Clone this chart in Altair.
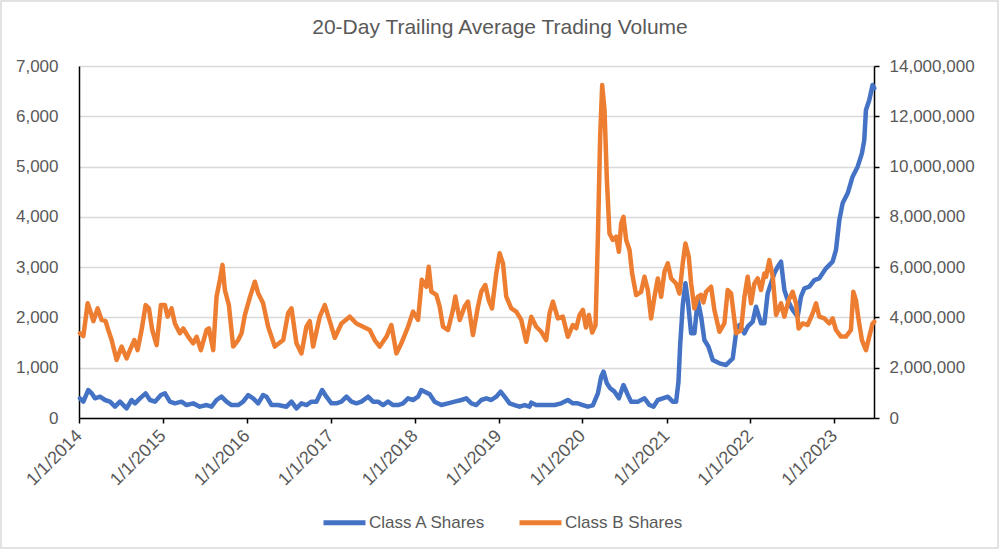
import altair as alt
import pandas as pd

title_text = "20-Day Trailing Average Trading Volume"
series_names = ["Class A Shares", "Class B Shares"]
series_colors = ["#4472C4", "#ED7D31"]
year_ticks = list(range(2014, 2024))

# Class A shares (left axis), decimal year / 20-day average volume
a_years = [2014.012, 2014.052, 2014.111, 2014.151, 2014.190, 2014.250, 2014.310, 2014.369, 2014.429, 2014.488,
           2014.567, 2014.627, 2014.667, 2014.726, 2014.794, 2014.845, 2014.905, 2014.976, 2015.024, 2015.083,
           2015.143, 2015.222, 2015.282, 2015.361, 2015.440, 2015.520, 2015.579, 2015.639, 2015.698, 2015.758,
           2015.817, 2015.897, 2015.956, 2016.016, 2016.075, 2016.135, 2016.194, 2016.234, 2016.294, 2016.373,
           2016.472, 2016.532, 2016.591, 2016.651, 2016.710, 2016.770, 2016.829, 2016.897, 2016.948, 2017.008,
           2017.067, 2017.127, 2017.187, 2017.246, 2017.306, 2017.365, 2017.444, 2017.504, 2017.563, 2017.623,
           2017.683, 2017.742, 2017.802, 2017.861, 2017.921, 2017.980, 2018.040, 2018.079, 2018.119, 2018.179,
           2018.238, 2018.317, 2018.397, 2018.476, 2018.556, 2018.615, 2018.675, 2018.734, 2018.794, 2018.853,
           2018.913, 2018.972, 2019.024, 2019.071, 2019.131, 2019.190, 2019.250, 2019.310, 2019.369, 2019.389,
           2019.448, 2019.508, 2019.587, 2019.667, 2019.746, 2019.825, 2019.885, 2019.944, 2020.004, 2020.063,
           2020.123, 2020.183, 2020.222, 2020.250, 2020.290, 2020.329, 2020.381, 2020.433, 2020.488, 2020.540,
           2020.579, 2020.659, 2020.738, 2020.798, 2020.845, 2020.897, 2020.956, 2021.016, 2021.075, 2021.115,
           2021.143, 2021.163, 2021.194, 2021.226, 2021.254, 2021.294, 2021.333, 2021.373, 2021.413, 2021.452,
           2021.500, 2021.552, 2021.631, 2021.710, 2021.790, 2021.829, 2021.869, 2021.929, 2021.968, 2022.028,
           2022.067, 2022.127, 2022.167, 2022.206, 2022.246, 2022.286, 2022.325, 2022.365, 2022.405, 2022.444,
           2022.504, 2022.563, 2022.603, 2022.643, 2022.702, 2022.762, 2022.821, 2022.901, 2022.980, 2023.020,
           2023.060, 2023.099, 2023.159, 2023.218, 2023.278, 2023.329, 2023.357, 2023.377, 2023.417, 2023.456,
           2023.476]
a_values = [391, 325, 557, 490, 391, 424, 358, 325, 225, 325,
            192, 358, 291, 391, 490, 358, 325, 457, 490, 325,
            291, 325, 258, 291, 225, 258, 225, 358, 424, 325,
            258, 258, 325, 457, 391, 291, 457, 424, 258, 258,
            225, 325, 192, 291, 258, 325, 325, 557, 424, 291,
            291, 325, 424, 325, 291, 325, 424, 325, 325, 258,
            325, 258, 258, 291, 391, 358, 424, 557, 524, 471,
            325, 258, 292, 325, 358, 391, 292, 258, 358, 391,
            358, 424, 524, 424, 292, 258, 225, 258, 225, 305,
            258, 258, 258, 258, 292, 358, 292, 292, 258, 225,
            250, 490, 822, 921, 689, 590, 524, 391, 656, 457,
            325, 325, 391, 258, 225, 358, 391, 424, 325, 325,
            716, 1445, 2241, 2678, 2347, 1684, 1684, 2347, 2015, 1551,
            1419, 1153, 1087, 1054, 1187, 1684, 1849, 1684, 1816, 1915,
            2214, 1882, 1882, 2479, 2678, 2877, 3010, 3109, 2545, 2347,
            2148, 2015, 2413, 2579, 2612, 2744, 2778, 2976, 3109, 3341,
            3937, 4269, 4468, 4799, 4998, 5263, 5528, 6125, 6324, 6622,
            6556]

# Class B shares (right axis), decimal year / 20-day average volume in millions
b_years = [2014.012, 2014.052, 2014.103, 2014.143, 2014.171, 2014.222, 2014.270, 2014.317, 2014.349, 2014.389,
           2014.448, 2014.508, 2014.567, 2014.607, 2014.659, 2014.698, 2014.746, 2014.794, 2014.833, 2014.873,
           2014.925, 2014.976, 2015.024, 2015.056, 2015.103, 2015.143, 2015.202, 2015.242, 2015.302, 2015.361,
           2015.401, 2015.452, 2015.520, 2015.548, 2015.599, 2015.639, 2015.679, 2015.710, 2015.738, 2015.786,
           2015.837, 2015.897, 2015.937, 2015.976, 2016.036, 2016.095, 2016.135, 2016.194, 2016.254, 2016.333,
           2016.433, 2016.492, 2016.532, 2016.591, 2016.651, 2016.710, 2016.750, 2016.790, 2016.869, 2016.929,
           2016.988, 2017.048, 2017.127, 2017.226, 2017.306, 2017.385, 2017.464, 2017.524, 2017.583, 2017.663,
           2017.722, 2017.782, 2017.841, 2017.921, 2017.980, 2018.040, 2018.085, 2018.139, 2018.167, 2018.198,
           2018.258, 2018.298, 2018.337, 2018.397, 2018.456, 2018.484, 2018.536, 2018.595, 2018.635, 2018.694,
           2018.754, 2018.794, 2018.841, 2018.881, 2018.921, 2018.972, 2019.012, 2019.052, 2019.091, 2019.151,
           2019.210, 2019.270, 2019.329, 2019.389, 2019.448, 2019.508, 2019.567, 2019.607, 2019.647, 2019.706,
           2019.766, 2019.825, 2019.885, 2019.925, 2019.964, 2020.004, 2020.040, 2020.075, 2020.115, 2020.155,
           2020.183, 2020.210, 2020.234, 2020.262, 2020.290, 2020.321, 2020.361, 2020.401, 2020.433, 2020.460,
           2020.488, 2020.520, 2020.560, 2020.591, 2020.639, 2020.698, 2020.738, 2020.778, 2020.817, 2020.857,
           2020.897, 2020.937, 2020.976, 2021.016, 2021.056, 2021.115, 2021.155, 2021.194, 2021.226, 2021.266,
           2021.294, 2021.333, 2021.373, 2021.410, 2021.440, 2021.472, 2021.532, 2021.571, 2021.631, 2021.690,
           2021.730, 2021.770, 2021.829, 2021.889, 2021.929, 2021.968, 2022.008, 2022.048, 2022.087, 2022.127,
           2022.167, 2022.187, 2022.226, 2022.266, 2022.306, 2022.365, 2022.405, 2022.456, 2022.504, 2022.544,
           2022.575, 2022.623, 2022.683, 2022.742, 2022.782, 2022.821, 2022.881, 2022.940, 2022.980, 2023.020,
           2023.079, 2023.139, 2023.198, 2023.226, 2023.258, 2023.290, 2023.329, 2023.377, 2023.417, 2023.456,
           2023.476]
b_values_millions = [3.37, 3.26, 4.56, 4.17, 3.85, 4.36, 3.90, 3.85, 3.50, 3.10,
                     2.31, 2.84, 2.37, 2.70, 3.10, 2.70, 3.50, 4.49, 4.36, 3.50,
                     2.90, 4.49, 4.49, 4.03, 4.36, 3.76, 3.37, 3.56, 3.23, 2.97,
                     3.23, 2.70, 3.50, 3.56, 2.70, 4.82, 5.49, 6.09, 5.09, 4.49,
                     2.84, 3.10, 3.37, 4.09, 4.80, 5.42, 4.96, 4.56, 3.63, 2.84,
                     3.10, 4.17, 4.36, 2.97, 2.57, 3.63, 3.85, 2.84, 4.03, 4.49,
                     3.85, 3.19, 3.76, 4.03, 3.76, 3.63, 3.50, 3.10, 2.84, 3.23,
                     3.70, 2.57, 2.97, 3.63, 4.23, 3.90, 5.50, 5.22, 6.02, 5.03,
                     4.90, 4.43, 3.63, 3.50, 4.30, 4.83, 3.90, 4.43, 4.63, 3.30,
                     4.43, 5.03, 5.29, 4.70, 4.36, 5.75, 6.55, 6.15, 4.83, 4.36,
                     4.23, 3.90, 3.03, 4.03, 3.63, 3.43, 3.10, 4.17, 4.63, 3.96,
                     4.03, 3.23, 3.70, 3.57, 4.10, 4.30, 3.60, 4.10, 3.40, 3.70,
                     7.21, 11.19, 13.24, 12.25, 9.47, 7.34, 7.08, 7.21, 6.61, 7.74,
                     8.00, 7.08, 6.68, 5.75, 4.89, 5.02, 5.62, 5.09, 3.96, 4.82,
                     5.55, 4.82, 5.82, 6.15, 5.55, 5.35, 4.95, 6.15, 6.94, 6.41,
                     5.35, 4.36, 4.82, 4.90, 4.60, 5.02, 5.22, 4.30, 3.43, 3.76,
                     5.09, 4.96, 3.37, 3.50, 4.82, 5.62, 4.56, 5.35, 5.55, 5.09,
                     5.75, 5.62, 6.28, 5.62, 4.10, 4.56, 4.03, 4.69, 5.02, 4.56,
                     3.56, 3.76, 3.70, 4.16, 4.56, 4.03, 3.96, 3.76, 3.96, 3.50,
                     3.24, 3.24, 3.50, 5.02, 4.69, 3.90, 3.10, 2.70, 3.24, 3.76,
                     3.83]

left_ticks = list(range(0, 7001, 1000))
right_ticks = list(range(0, 14000001, 2000000))

FONT = "Liberation Sans"
TEXT = "#595959"


def to_dates(years):
    base = pd.Timestamp("2014-01-01")
    return [(base + pd.Timedelta(days=(y - 2014) * 365.25)).strftime("%Y-%m-%dT%H:%M:%S") for y in years]


df_a = pd.DataFrame({"date": to_dates(a_years), "value": a_values, "series": series_names[0]})
df_b = pd.DataFrame({"date": to_dates(b_years), "value": [v * 1e6 for v in b_values_millions],
                     "series": series_names[1]})

x_scale = alt.Scale(domain=[alt.DateTime(year=2014, month=1, date=1),
                            alt.DateTime(year=2023, month=6, date=23)])
x_axis = alt.Axis(values=[alt.DateTime(year=y, month=1, date=1) for y in year_ticks],
                  format="%-m/%-d/%Y", labelAngle=-45, labelAlign="right", labelBaseline="middle",
                  title=None, grid=False, domainColor="black", domainWidth=1.5,
                  tickColor="black", tickSize=5, tickWidth=1.5, labelPadding=10,
                  labelFont=FONT, labelFontSize=18, labelColor=TEXT)

color = alt.Color("series:N",
                  scale=alt.Scale(domain=series_names, range=series_colors),
                  legend=alt.Legend(title=None, orient="none", legendX=242, legendY=433,
                                    direction="horizontal", symbolType="stroke",
                                    symbolSize=1764, symbolStrokeWidth=5,
                                    labelFont=FONT, labelFontSize=17, labelColor=TEXT,
                                    labelOffset=1, columnPadding=22))

line_a = alt.Chart(df_a).mark_line(strokeWidth=4.5, strokeJoin="round", strokeCap="round").encode(
    x=alt.X("date:T", scale=x_scale, axis=x_axis),
    y=alt.Y("value:Q", scale=alt.Scale(domain=[0, 7000], nice=False),
            axis=alt.Axis(orient="left", values=left_ticks, format=",.0f", title=None,
                          grid=True, gridColor="#d9d9d9", gridWidth=1.5,
                          domainColor="black", domainWidth=1.5, ticks=False,
                          labelPadding=21, labelFont=FONT, labelFontSize=17, labelColor=TEXT)),
    color=color,
)

line_b = alt.Chart(df_b).mark_line(strokeWidth=4.5, strokeJoin="round", strokeCap="round").encode(
    x=alt.X("date:T", scale=x_scale, axis=x_axis),
    y=alt.Y("value:Q", scale=alt.Scale(domain=[0, 14000000], nice=False),
            axis=alt.Axis(orient="right", values=right_ticks, format=",.0f", title=None,
                          grid=False, domainColor="black", domainWidth=1.5,
                          tickColor="black", tickSize=5, tickWidth=1.5,
                          labelPadding=10, labelFont=FONT, labelFontSize=17, labelColor=TEXT)),
    color=color,
)

frame_df = pd.DataFrame({"title": [title_text]})

border = alt.Chart(frame_df).mark_rect(
    fill="transparent", fillOpacity=0, stroke="#d9d9d9", strokeWidth=1.5, clip=False
).encode(x=alt.value(-78), x2=alt.value(919), y=alt.value(-65), y2=alt.value(482))

title_mark = alt.Chart(frame_df).mark_text(
    font=FONT, fontSize=21, color=TEXT, align="center", baseline="alphabetic", clip=False
).encode(x=alt.value(421), y=alt.value(-32), text="title:N")

chart = alt.layer(border, title_mark, line_a, line_b).resolve_scale(y="independent").properties(
    width=795, height=352,
    autosize=alt.AutoSizeParams(type="none"),
    padding={"left": 79, "top": 66, "right": 126, "bottom": 133},
).configure_view(stroke=None).configure(background="white")

chart.save("out.html", embed_options={"renderer": "svg", "actions": False})
